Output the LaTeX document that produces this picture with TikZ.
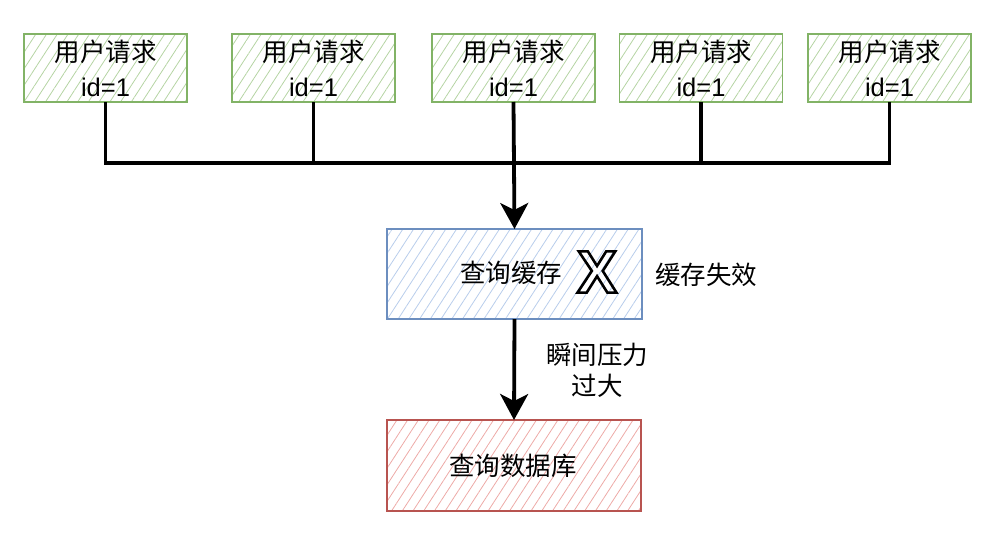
\documentclass[tikz,border=0pt]{standalone}
\usepackage{fontspec}
\setmainfont{Liberation Sans}
\newfontfamily\cjk{Noto Sans CJK SC}
\newfontfamily\xfont{Liberation Sans}
\usetikzlibrary{arrows.meta,patterns.meta}
\definecolor{gstroke}{HTML}{82B366}
\definecolor{ghatch}{HTML}{B5D4A3}
\definecolor{bstroke}{HTML}{6C8EBF}
\definecolor{bhatch}{HTML}{B8CDEB}
\definecolor{rstroke}{HTML}{B85450}
\definecolor{rhatch}{HTML}{EDAAA7}
\begin{document}
\begin{tikzpicture}[x=1pt,y=-1pt,
  every node/.style={inner sep=0pt,outer sep=0pt},
  hatch/.style={pattern={Lines[angle=57,distance=9pt,line width=0.8pt]}},
  req/.style={draw=gstroke,line width=1.8pt,minimum width=163pt,minimum height=68pt,
    hatch,pattern color=ghatch,
    align=center,font=\fontsize{25.5}{35}\selectfont},
  cachebox/.style={draw=bstroke,line width=1.8pt,minimum width=255pt,minimum height=90pt,
    hatch,pattern color=bhatch},
  dbbox/.style={draw=rstroke,line width=1.8pt,minimum width=254pt,minimum height=91pt,
    hatch,pattern color=rhatch},
  lbl/.style={font=\cjk\fontsize{25.5}{31}\selectfont,align=center},
  wire/.style={line width=3.8pt,black},
  arr/.style={line width=3.8pt,black,-{Stealth[width=28pt,length=26pt,inset=7pt]}}]
\useasboundingbox (0,0) rectangle (998,552);
\node[req] (r1) at (105.5,68) {{\cjk 用户请求}\\id=1};
\node[req] (r2) at (313.5,68) {{\cjk 用户请求}\\id=1};
\node[req] (r3) at (513.5,68) {{\cjk 用户请求}\\id=1};
\node[req] (r4) at (701,68) {{\cjk 用户请求}\\id=1};
\node[req] (r5) at (889.5,68) {{\cjk 用户请求}\\id=1};
\node[cachebox] (cache) at (514.5,274) {};
\node[dbbox] (db) at (514,465.5) {};
\node[lbl] (cachetxt) at (511,273) {查询缓存};
\node[font=\xfont\bfseries\fontsize{60}{60}\selectfont] (xmark) at (597,272)
  {\special{pdf:literal direct 1 Tr 2.6 w}X\special{pdf:literal direct 0 Tr}};
\node[lbl] (dbtxt) at (513,466) {查询数据库};
\node[lbl] (fail) at (706,275) {缓存失效};
\node[lbl] (press) at (597,370) {瞬间压力\\过大};
\coordinate (bus) at (0,163);
\draw[wire] (r1.south) -- (r1.south |- bus) -- (r5.south |- bus) -- (r5.south);
\draw[wire] (r2.south) -- (r2.south |- bus);
\draw[wire] (r4.south) -- (r4.south |- bus);
\draw[arr] (r3.south) -- (cache.north);
\draw[arr] (cache.south) -- (db.north);
\end{tikzpicture}
\end{document}
